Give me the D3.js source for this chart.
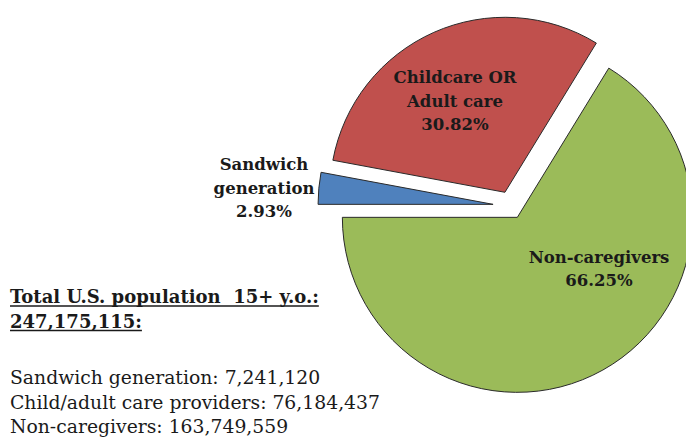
<!DOCTYPE html>
<html>
<head>
<meta charset="utf-8">
<script src="https://cdn.jsdelivr.net/npm/d3@7"></script>
<style>
  html, body { margin: 0; padding: 0; background: #fff; }
  svg { display: block; }
  text { white-space: pre; }
</style>
</head>
<body>
<svg id="chart" width="686" height="439"></svg>
<script>
// Caregiving status of the U.S. population aged 15+
const categories = ["Non-caregivers", "Sandwich generation", "Childcare OR Adult care"];
const shares = [66.25, 2.93, 30.82];
const sliceLabels = [["Non-caregivers", "66.25%"], ["Sandwich", "generation", "2.93%"], ["Childcare OR", "Adult care", "30.82%"]];
const sliceColors = ["#9BBB59", "#4F81BD", "#C0504D"];

const totalTitle = ["Total U.S. population  15+ y.o.:", "247,175,115:"];
const countLines = [
  "Sandwich generation: 7,241,120",
  "Child/adult care providers: 76,184,437",
  "Non-caregivers: 163,749,559"
];

const W = 686, H = 439;
const cx = 511, cy = 206, R = 175;
const explode = [13, 18, 15];
const serif = "'DejaVu Serif', serif";

const svg = d3.select("#chart");

// Non-caregivers slice ends pointing due west; the rest follow clockwise
const total = d3.sum(shares);
const a0 = 1.5 * Math.PI - 2 * Math.PI * shares[0] / total;
const pie = d3.pie().sort(null).value(d => d).startAngle(a0).endAngle(a0 + 2 * Math.PI);
const arcs = pie(shares);
const arc = d3.arc().innerRadius(0).outerRadius(R);

const g = svg.append("g").attr("transform", `translate(${cx},${cy})`);

const slices = g.selectAll("g.slice").data(arcs).join("g")
  .attr("class", "slice")
  .attr("transform", (d, i) => {
    const m = (d.startAngle + d.endAngle) / 2;
    return `translate(${explode[i] * Math.sin(m)},${-explode[i] * Math.cos(m)})`;
  });

slices.append("path")
  .attr("d", arc)
  .attr("fill", (d, i) => sliceColors[i])
  .attr("stroke", "#2a2a2a")
  .attr("stroke-width", 1);

// Slice labels (label centre relative to pie centre)
const labelPos = [[88, 62.5], [-247, -18], [-56, -105]];
const labelSize = 16.5;
const lineGap = 23.5;

sliceLabels.forEach((lines, i) => {
  const t = g.append("text")
    .attr("text-anchor", "middle")
    .attr("font-family", serif)
    .attr("font-weight", "bold")
    .attr("font-size", labelSize)
    .attr("fill", "#1a1a1a");
  const n = lines.length;
  lines.forEach((s, k) => {
    t.append("tspan")
      .attr("x", labelPos[i][0])
      .attr("y", labelPos[i][1] + (k - (n - 1) / 2) * lineGap)
      .attr("dy", "0.35em")
      .text(s);
  });
});

// Population totals block
const titleG = svg.append("g");
totalTitle.forEach((s, k) => {
  const t = titleG.append("text")
    .attr("x", 10)
    .attr("y", 303 + k * 24.5)
    .attr("font-family", serif)
    .attr("font-weight", "bold")
    .attr("font-size", 18)
    .attr("fill", "#1a1a1a")
    .text(s);
  const w = t.node().getComputedTextLength();
  titleG.append("line")
    .attr("x1", 10).attr("x2", 10 + w)
    .attr("y1", 306 + k * 24.5).attr("y2", 306 + k * 24.5)
    .attr("stroke", "#1a1a1a").attr("stroke-width", 1.4);
});

svg.append("g").selectAll("text").data(countLines).join("text")
  .attr("x", 10)
  .attr("y", (d, k) => 384 + k * 24.5)
  .attr("font-family", serif)
  .attr("font-size", 18.8)
  .attr("fill", "#1a1a1a")
  .text(d => d);
</script>
</body>
</html>
